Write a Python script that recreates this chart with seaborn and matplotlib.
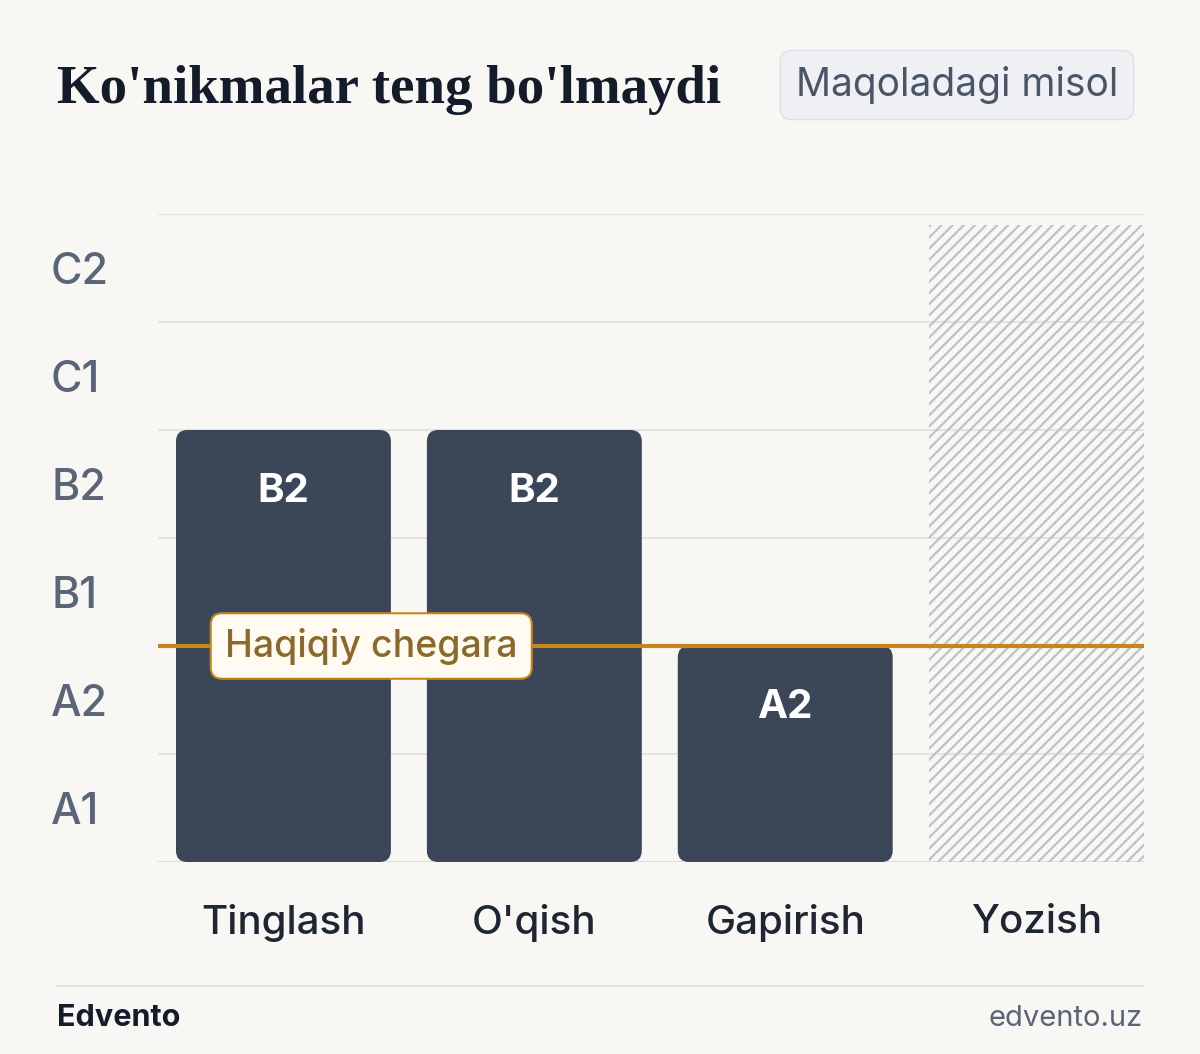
import matplotlib
matplotlib.use("Agg")
import numpy as np
import pandas as pd
import seaborn as sns
import matplotlib.pyplot as plt
from matplotlib.patches import FancyBboxPatch

levels = ['A1', 'A2', 'B1', 'B2', 'C1', 'C2']
skills = ['Tinglash', "O'qish", 'Gapirish', 'Yozish']
scores = [4, 4, 2, 6]          # bar top in level steps (Yozish = unknown, full height)
bar_labels = ['B2', 'B2', 'A2', '']
known = [True, True, True, False]
threshold = 2

bg = '#f9f7f4'
bar_col = '#3b4658'
orange = '#c8861a'
sns.set_theme(style='white')
plt.rcParams['font.family'] = ['Inter', 'DejaVu Sans']
plt.rcParams['hatch.color'] = '#bcc1cb'
plt.rcParams['hatch.linewidth'] = 1.6

df = pd.DataFrame({'skill': skills, 'score': scores})
fig = plt.figure(figsize=(12, 10.54), dpi=100, facecolor=bg)
ax = fig.add_axes([158/1200, 1-862/1054, 986/1200, 648/1054])
ax.set_facecolor(bg)
sns.barplot(data=df, x='skill', y='score', ax=ax, width=215/251, color=bar_col)
ax.set_xlim(-0.5, 3.43)
ax.set_ylim(0, 6)
for s in ax.spines.values():
    s.set_visible(False)
for y in range(1, 7):
    ax.axhline(y, color='#e6e3de', lw=1.5, zorder=0)
ax.axhline(0, color='#dcd9d4', lw=2, zorder=0)

# replace bars with rounded ones
asp = (1/108) / (1/251)
for p, k in zip(list(ax.patches), known):
    x, w, h = p.get_x(), p.get_width(), p.get_height()
    p.remove()
    if k:
        rb = FancyBboxPatch((x, 0), w, h, boxstyle='round,pad=0,rounding_size=0.045',
                            mutation_aspect=asp, fc=bar_col, ec='none', zorder=2)
    else:
        rb = FancyBboxPatch((x, 0), w, h - 0.1, boxstyle='square,pad=0', fc='none',
                            ec='#bcc1cb', hatch='///', lw=0, zorder=1)
    ax.add_patch(rb)

for i, (lab, sc) in enumerate(zip(bar_labels, scores)):
    if lab:
        ax.text(i, sc - 0.57, lab, ha='center', va='center', color='white',
                fontsize=29, fontweight='bold', zorder=4)

ax.axhline(threshold, color=orange, lw=3, zorder=3)
ax.text(0.35, threshold, 'Haqiqiy chegara', ha='center', va='center', color='#8a6a2a',
        fontsize=27, fontweight='medium', zorder=5,
        bbox=dict(boxstyle='round,pad=0.38,rounding_size=0.3', fc='#fffbf3', ec=orange, lw=1.5))

ax.set_yticks([l + 0.5 for l in range(len(levels))])
ax.set_yticklabels(levels)
ax.tick_params(axis='y', length=0, pad=77, labelsize=31, labelcolor='#5a6577')
for t in ax.get_yticklabels():
    t.set_horizontalalignment('left')
    t.set_fontweight('medium')
ax.tick_params(axis='x', length=0, pad=30, labelsize=29, labelcolor='#1f2633')
for t in ax.get_xticklabels():
    t.set_fontweight('medium')
ax.set_xlabel('')
ax.set_ylabel('')

fig.text(57/1200, 1-90/1054, "Ko'nikmalar teng bo'lmaydi", family='Liberation Serif',
         fontweight='bold', fontsize=39.5, color='#141b2b', va='center')
fig.text(957/1200, 1-85/1054, 'Maqoladagi misol', ha='center', va='center', fontsize=28,
         color='#4a5568',
         bbox=dict(boxstyle='round,pad=0.4,rounding_size=0.3', fc='#eef0f3', ec='#dde1e6', lw=1))
fig.add_artist(plt.Line2D([57/1200, 1143/1200], [1-986/1054]*2, color='#e3e0db', lw=1.5))
fig.text(57/1200, 1-1018/1054, 'Edvento', fontsize=22, fontweight='bold', color='#141b2b', va='center')
fig.text(1143/1200, 1-1018/1054, 'edvento.uz', fontsize=21, color='#5a6577', va='center', ha='right')

fig.savefig('out.png', dpi=100, facecolor=bg)
